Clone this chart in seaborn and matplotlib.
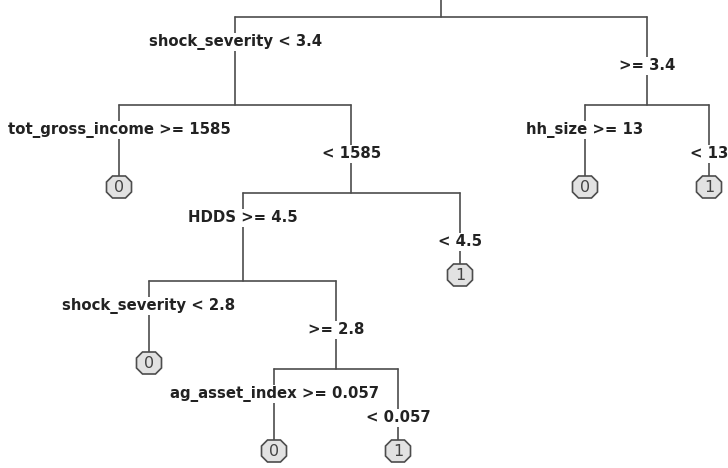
import numpy as np
import pandas as pd
import matplotlib
matplotlib.use("Agg")
import matplotlib.pyplot as plt
from matplotlib.patches import Polygon
import seaborn as sns

# tree structure (rpart-style node numbers: children of n are 2n and 2n+1)
node_ids = [2, 3, 4, 5, 6, 7, 10, 11, 20, 21, 42, 43]
edge_labels = ["shock_severity < 3.4", ">= 3.4",
               "tot_gross_income >= 1585", "< 1585",
               "hh_size >= 13", "< 13",
               "HDDS >= 4.5", "< 4.5",
               "shock_severity < 2.8", ">= 2.8",
               "ag_asset_index >= 0.057", "< 0.057"]
leaf_nodes = [4, 20, 42, 43, 11, 6, 7]     # left to right
leaf_class = ["0", "0", "0", "1", "1", "0", "1"]

# layout (pixel units)
leaf_x = [119, 149, 274, 398, 460, 585, 709]
top_y, level_h = 17, 88
box_w, box_h, cut = 25, 22, 6

sns.set_theme(style="white")
plt.rcParams['font.family'] = ['DejaVu Sans']

labels = dict(zip(node_ids, edge_labels))
xpos = dict(zip(leaf_nodes, leaf_x))
leaf_set = set(leaf_nodes)


def depth(n):
    return int(np.floor(np.log2(n)))


def split_y(n):
    return top_y + level_h * depth(n)


def get_x(n):
    if n not in xpos:
        xpos[n] = (get_x(2 * n) + get_x(2 * n + 1)) / 2
    return xpos[n]


get_x(1)
all_nodes = [1] + node_ids

segs = []
k = 0
# root stem
segs += [(k, xpos[1], 0), (k, xpos[1], split_y(1))]
k += 1
for n in all_nodes:
    if n in leaf_set:
        continue
    l, r = 2 * n, 2 * n + 1
    y0 = split_y(n)
    segs += [(k, xpos[l], y0), (k, xpos[r], y0)]
    k += 1
    for c in (l, r):
        if c in leaf_set:
            y1 = split_y(c) - 6 - box_h / 2
        else:
            y1 = split_y(c)
        segs += [(k, xpos[c], y0), (k, xpos[c], y1)]
        k += 1
seg_df = pd.DataFrame(segs, columns=["seg", "x", "y"])

fig = plt.figure(figsize=(7.28, 4.68), dpi=100)
ax = fig.add_axes([0, 0, 1, 1])
sns.lineplot(data=seg_df, x="x", y="y", units="seg", estimator=None,
             sort=False, color="#4d4d4d", linewidth=1.2, ax=ax)

for n in node_ids:
    py = split_y(n // 2)
    ly = py + (25 if n % 2 == 0 else 49)
    ax.text(xpos[n], ly, labels[n], ha="center", va="center", fontsize=10.7,
            color="#222222", fontweight="semibold", zorder=5,
            bbox=dict(facecolor="white", edgecolor="none", pad=1.0))

for n, cls in zip(leaf_nodes, leaf_class):
    cx, cy = xpos[n], split_y(n) - 6
    hw, hh = box_w / 2, box_h / 2
    pts = [(cx - hw + cut, cy - hh), (cx + hw - cut, cy - hh), (cx + hw, cy - hh + cut),
           (cx + hw, cy + hh - cut), (cx + hw - cut, cy + hh), (cx - hw + cut, cy + hh),
           (cx - hw, cy + hh - cut), (cx - hw, cy - hh + cut)]
    ax.add_patch(Polygon(pts, closed=True, facecolor="#e2e2e2", edgecolor="#4d4d4d",
                         linewidth=1.2, zorder=6))
    ax.text(cx, cy + 0.5, cls, ha="center", va="center", fontsize=11.5,
            color="#444444", zorder=7)

ax.set_xlim(0, 728)
ax.set_ylim(468, 0)
ax.axis("off")
fig.savefig("out.png", dpi=100, facecolor="white")
